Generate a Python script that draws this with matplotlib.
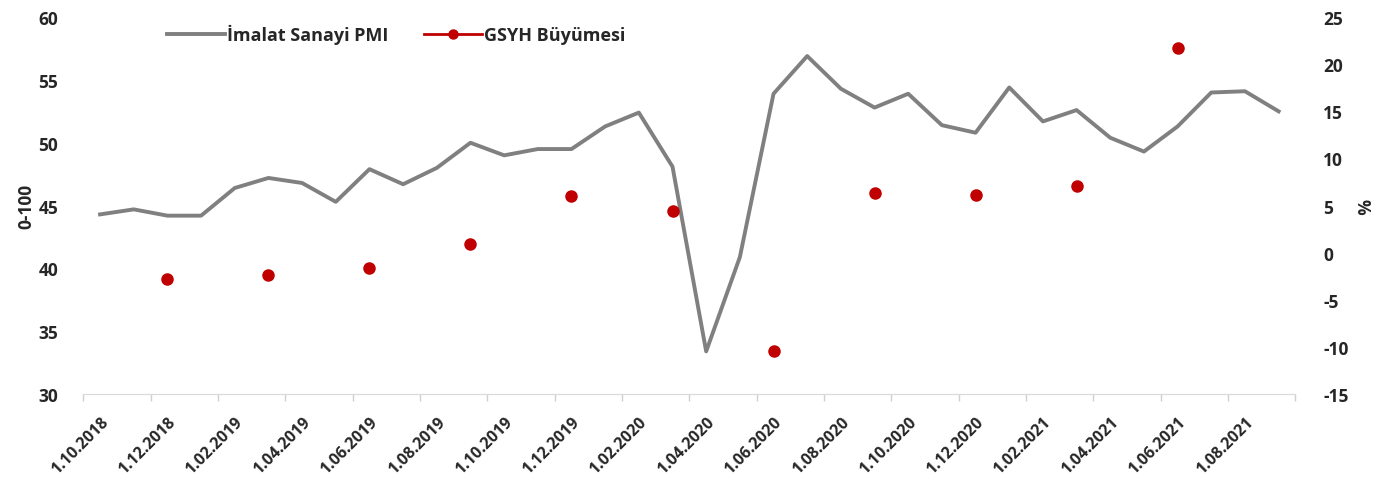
import matplotlib
matplotlib.use("Agg")
import matplotlib.pyplot as plt
from matplotlib.lines import Line2D
import numpy as np

# monthly manufacturing PMI, Oct 2018 - Sep 2021
months = ["1.10.2018", "1.11.2018", "1.12.2018", "1.01.2019", "1.02.2019", "1.03.2019",
          "1.04.2019", "1.05.2019", "1.06.2019", "1.07.2019", "1.08.2019", "1.09.2019",
          "1.10.2019", "1.11.2019", "1.12.2019", "1.01.2020", "1.02.2020", "1.03.2020",
          "1.04.2020", "1.05.2020", "1.06.2020", "1.07.2020", "1.08.2020", "1.09.2020",
          "1.10.2020", "1.11.2020", "1.12.2020", "1.01.2021", "1.02.2021", "1.03.2021",
          "1.04.2021", "1.05.2021", "1.06.2021", "1.07.2021", "1.08.2021", "1.09.2021"]
pmi = [44.3, 44.7, 44.2, 44.2, 46.4, 47.2, 46.8, 45.3, 47.9, 46.7, 48.0, 50.0,
       49.0, 49.5, 49.5, 51.3, 52.4, 48.1, 33.4, 40.9, 53.9, 56.9, 54.3, 52.8,
       53.9, 51.4, 50.8, 54.4, 51.7, 52.6, 50.4, 49.3, 51.3, 54.0, 54.1, 52.5]

# quarterly GDP growth, placed at quarter-end month
gdp_months = ["1.12.2018", "1.03.2019", "1.06.2019", "1.09.2019", "1.12.2019", "1.03.2020",
              "1.06.2020", "1.09.2020", "1.12.2020", "1.03.2021", "1.06.2021"]
gdp = [-2.8, -2.4, -1.6, 0.9, 6.0, 4.4, -10.4, 6.3, 6.1, 7.1, 21.7]

plt.rcParams['font.family'] = ['Open Sans', 'DejaVu Sans']
plt.rcParams['axes.unicode_minus'] = False
txt = '#262626'

fig = plt.figure(figsize=(13.87, 4.89), dpi=100)
ax = fig.add_axes([0.060, 0.192, 0.874, 0.771])
ax2 = ax.twinx()

x = np.arange(len(months))
gx = [months.index(m) for m in gdp_months]

ax.plot(x, pmi, color='#808080', lw=2.8, zorder=3)
ax2.plot(gx, gdp, ls='none', marker='o', ms=8, color='#c00000', zorder=4)

ax.set_xlim(-0.5, len(months) - 0.5)
ax.set_ylim(30, 60)
ax.set_yticks(range(30, 61, 5))
ax2.set_ylim(-15, 25)
ax2.set_yticks(range(-15, 26, 5))

ax.set_xticks(x[::2])
ax.set_xticklabels(months[::2], rotation=45, ha='right', rotation_mode='anchor',
                   fontsize=11.5, fontweight='bold', color=txt)
ax.set_xticks(np.arange(-0.5, len(months), 2), minor=True)
ax.tick_params(axis='x', which='major', length=0, pad=14)
ax.tick_params(axis='x', which='minor', length=5, color='#d0d0d0', width=1)

ax.tick_params(axis='y', length=0, pad=18, labelsize=12.5, labelcolor=txt)
ax2.tick_params(axis='y', length=0, pad=20, labelsize=12.5, labelcolor=txt)
for lab in ax.get_yticklabels() + ax2.get_yticklabels():
    lab.set_fontweight('bold')

for a in (ax, ax2):
    for s in ('top', 'left', 'right'):
        a.spines[s].set_visible(False)
    a.spines['bottom'].set_color('#d9d9d9')
ax2.spines['bottom'].set_visible(False)

ax.set_ylabel('0-100', fontsize=12.5, fontweight='bold', color=txt, labelpad=2)
ax2.set_ylabel('%', fontsize=12.5, fontweight='bold', color=txt, rotation=270, labelpad=16)

handles = [Line2D([], [], color='#808080', lw=2.8),
           Line2D([], [], color='#c00000', lw=2, marker='o', ms=6.5)]
leg = ax.legend(handles, ['İmalat Sanayi PMI', 'GSYH Büyümesi'], loc='upper left',
                bbox_to_anchor=(0.056, 1.025), ncol=2, frameon=False, handlelength=3.2,
                handletextpad=0.1, columnspacing=2.0, prop={'size': 13, 'weight': 'bold'})
for t in leg.get_texts():
    t.set_color(txt)

fig.savefig('out.png', dpi=100)
